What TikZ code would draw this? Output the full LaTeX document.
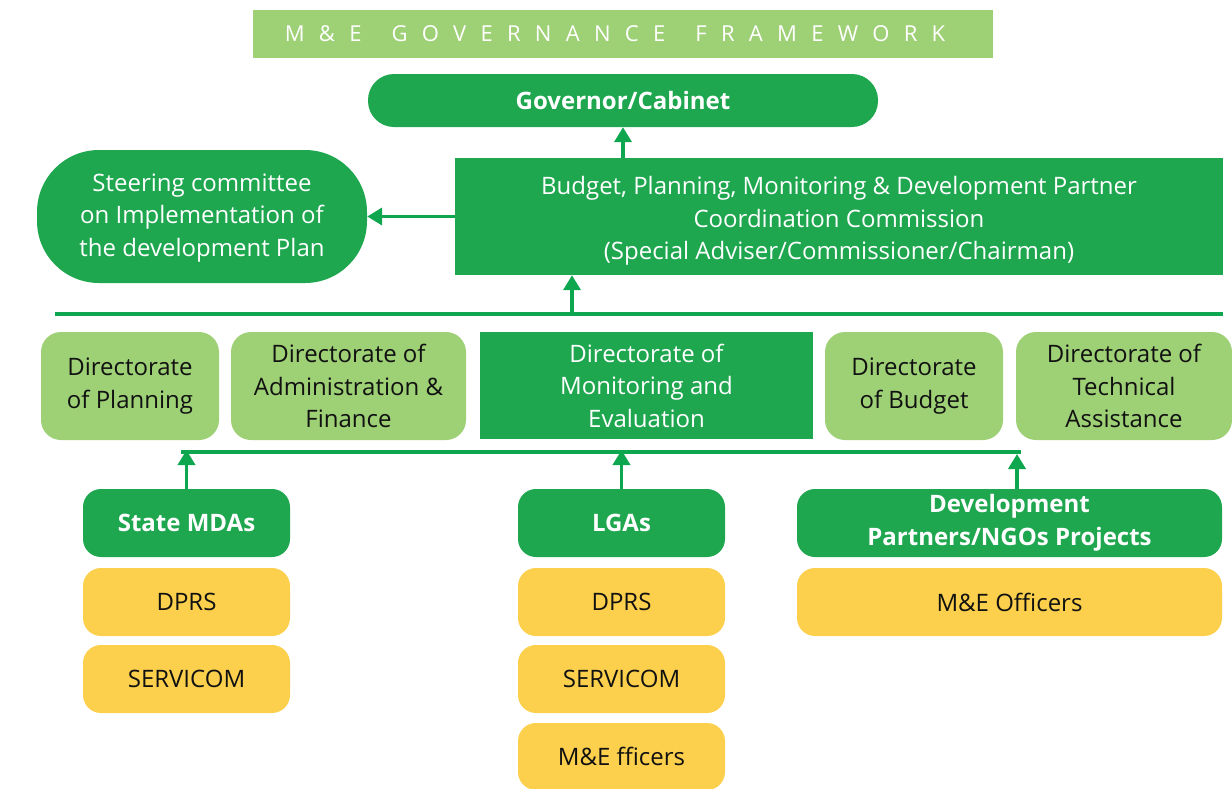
\documentclass[tikz,border=0pt]{standalone}
\usepackage{fontspec}
\setmainfont{Open Sans}
\newfontfamily\titlefont[LetterSpace=65]{Open Sans}
\usetikzlibrary{arrows.meta}
\definecolor{dgreen}{HTML}{1EA74F}
\definecolor{lgreen}{HTML}{9ED076}
\definecolor{ybox}{HTML}{FCD04C}
\definecolor{lgn}{HTML}{0FA650}
\definecolor{ink}{HTML}{111111}
\begin{document}
\begin{tikzpicture}[x=1pt,y=-1pt,
  base/.style={draw=none, align=center, inner sep=0pt, font=\fontsize{24}{32.5}\selectfont},
  dbox/.style={base, fill=dgreen, text=white},
  lbox/.style={base, fill=lgreen, text=ink, rounded corners=20pt},
  ybx/.style={base, fill=ybox, text=ink, rounded corners=18pt, minimum width=207pt, minimum height=68pt},
  hdr/.style={dbox, rounded corners=18pt, minimum height=68pt, font=\fontsize{24}{32.5}\selectfont\bfseries},
  arr/.style={draw=lgn, line width=3.8pt, -{Triangle[width=17pt,length=15pt]}},
  bar/.style={draw=lgn, line width=4pt}
]
\useasboundingbox (0,0) rectangle (1232,788);

% title
\node[base, fill=lgreen, text=white, minimum width=740pt, minimum height=48pt,
      font=\fontsize{22}{26}\titlefont] (title) at (623,34)
  {M\&E\hspace{10pt} GOVERNANCE\hspace{10pt} FRAMEWORK\hspace{16pt}};

% top level
\node[dbox, rounded corners=26pt, minimum width=510pt, minimum height=53pt,
      font=\fontsize{24}{32.5}\selectfont\bfseries] (gov) at (623,100.5) {Governor/Cabinet};
\node[dbox, minimum width=768pt, minimum height=117pt] (comm) at (839,216.5)
  {\raisebox{-4.5pt}[\height][\depth]{\parbox{760pt}{\centering Budget, Planning, Monitoring \& Development Partner\\Coordination Commission\\(Special Adviser/Commissioner/Chairman)}}};
\node[dbox, rounded corners=62pt, minimum width=330pt, minimum height=133pt] (steer) at (202,216.5)
  {\raisebox{-1.5pt}[\height][\depth]{\parbox{320pt}{\centering Steering committee\\on Implementation of\\the development Plan}}};

% bus line 1
\coordinate (l1a) at (55,314);
\coordinate (l1b) at (1223,314);
\coordinate (j1) at (572,316);
\draw[bar] (l1a) -- (l1b);

% directorates
\node[lbox, minimum width=178pt, minimum height=108pt] (plan) at (130,386) {Directorate\\of Planning};
\node[lbox, minimum width=235pt, minimum height=108pt] (admin) at (348.5,386) {Directorate of\\Administration \&\\Finance};
\node[dbox, minimum width=333pt, minimum height=107pt] (me) at (646.5,385.5) {Directorate of\\Monitoring and\\Evaluation};
\node[lbox, minimum width=178pt, minimum height=108pt] (budget) at (914,386) {Directorate\\of Budget};
\node[lbox, minimum width=216pt, minimum height=108pt] (tech) at (1124,386) {Directorate of\\Technical\\Assistance};

% bus line 2
\coordinate (l2a) at (181,452);
\coordinate (l2b) at (1021,452);
\coordinate (j2) at (1017,454);
\draw[bar] (l2a) -- (l2b);

% lower groups
\node[hdr, minimum width=207pt] (mda) at (186.5,523) {State MDAs};
\node[hdr, minimum width=207pt] (lga) at (621.5,523) {LGAs};
\node[hdr, minimum width=425pt] (dev) at (1009.5,523) {Development\\Partners/NGOs Projects};

\node[ybx] (dprs1) at (186.5,602) {DPRS};
\node[ybx] (serv1) at (186.5,679) {SERVICOM};
\node[ybx] (dprs2) at (621.5,602) {DPRS};
\node[ybx] (serv2) at (621.5,679) {SERVICOM};
\node[ybx, minimum height=67pt] (mef) at (621.5,756.5) {M\&E fficers};
\node[ybx, minimum width=425pt] (meo) at (1009.5,602) {M\&E Officers};

% connectors
\draw[arr] (comm.north -| gov.south) -- (gov.south);
\draw[arr] (comm.west) -- (steer.east);
\draw[arr] (j1) -- (j1 |- comm.south);
\draw[arr] (mda.north) -- ([yshift=2pt]mda.north |- l2a);
\draw[arr] (lga.north) -- ([yshift=2pt]lga.north |- l2a);
\draw[arr] (j2 |- dev.north) -- (j2);
\end{tikzpicture}
\end{document}
